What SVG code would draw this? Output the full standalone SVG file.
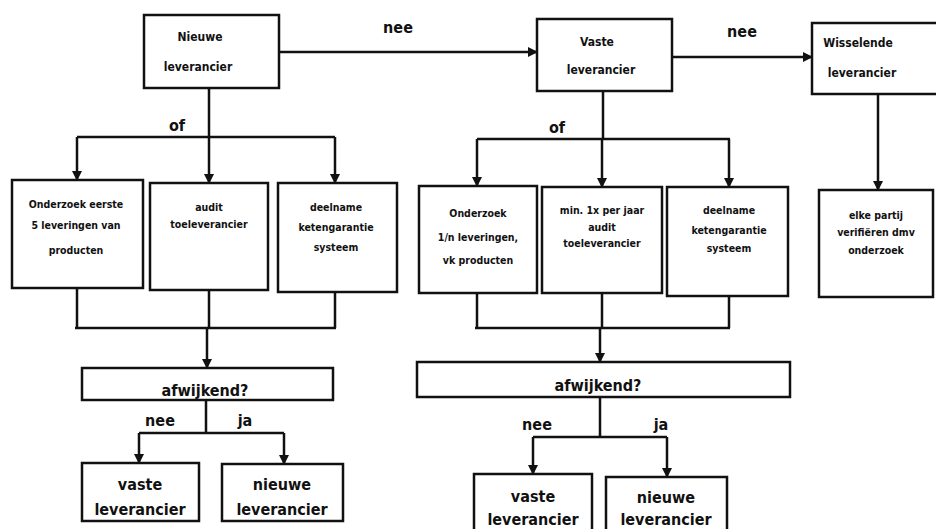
<svg xmlns="http://www.w3.org/2000/svg" width="936" height="529" viewBox="0 0 936 529">
<style>
.box{fill:#fff;stroke:#111;stroke-width:2.5}
.ln{fill:none;stroke:#111;stroke-width:2.5}
.ar{fill:none;stroke:#111;stroke-width:2.5;marker-end:url(#ah)}
text{font-family:"Liberation Sans Narrow","DejaVu Sans Condensed","Liberation Sans",sans-serif;font-weight:bold;fill:#111;text-anchor:middle}
.s{font-size:10.5px}
.m{font-size:12px}
.l{font-size:16px}
</style>
<defs>
<marker id="ah" markerWidth="10" markerHeight="10" refX="9" refY="5" orient="auto" markerUnits="userSpaceOnUse">
<path d="M0,0 L10,5 L0,10 Z" fill="#111"/>
</marker>
</defs>
<rect width="936" height="529" fill="#fff"/>
<g id="connectors">
<path class="ar" d="M279,52 H537"/>
<path class="ar" d="M672,57 H812"/>
<path class="ln" d="M209,88 V137 M77,137 H335"/>
<path class="ar" d="M77,137 V180"/>
<path class="ar" d="M209,137 V183"/>
<path class="ar" d="M335,137 V183"/>
<path class="ln" d="M77,288 V328 M209,290 V328 M335,292 V328 M75,328 H336"/>
<path class="ar" d="M207,328 V368"/>
<path class="ln" d="M206,400 V433 M139,433 H284"/>
<path class="ar" d="M139,433 V463"/>
<path class="ar" d="M284,433 V464"/>
<path class="ln" d="M603,91 V139 M477,139 H730"/>
<path class="ar" d="M477,139 V186"/>
<path class="ar" d="M602,139 V187"/>
<path class="ar" d="M729,139 V187"/>
<path class="ar" d="M878,94 V190"/>
<path class="ln" d="M477,293 V328 M602,293 V328 M729,296 V328 M475,328 H730"/>
<path class="ar" d="M600,328 V362"/>
<path class="ln" d="M600,397 V437 M533,437 H667"/>
<path class="ar" d="M533,437 V474"/>
<path class="ar" d="M667,437 V477"/>
</g>
<g id="labels">
<text class="l" x="398" y="33">nee</text>
<text class="l" x="742" y="37">nee</text>
<text class="l" x="177" y="131">of</text>
<text class="l" x="557" y="133">of</text>
<text class="l" x="160" y="426">nee</text>
<text class="l" x="245" y="426">ja</text>
<text class="l" x="537" y="430">nee</text>
<text class="l" x="661" y="430">ja</text>
</g>
<g id="nieuwe">
<rect class="box" x="144" y="15" width="135" height="73"/>
<text class="m" x="200" y="41">Nieuwe</text>
<text class="m" x="198" y="71">leverancier</text>
</g>
<g id="vaste">
<rect class="box" x="537" y="19" width="135" height="72"/>
<text class="m" x="597" y="46">Vaste</text>
<text class="m" x="601" y="74">leverancier</text>
</g>
<g id="wisselende">
<rect class="box" x="812" y="23" width="126" height="71"/>
<text class="m" x="858" y="47">Wisselende</text>
<text class="m" x="862" y="77">leverancier</text>
</g>
<g id="l1">
<rect class="box" x="12" y="180" width="131" height="108"/>
<text class="s" x="76" y="208">Onderzoek eerste</text>
<text class="s" x="76" y="229">5 leveringen van</text>
<text class="s" x="76" y="254">producten</text>
</g>
<g id="l2">
<rect class="box" x="150" y="183" width="118" height="107"/>
<text class="s" x="209" y="211">audit</text>
<text class="s" x="209" y="228">toeleverancier</text>
</g>
<g id="l3">
<rect class="box" x="278" y="183" width="119" height="109"/>
<text class="s" x="336" y="211">deelname</text>
<text class="s" x="336" y="231">ketengarantie</text>
<text class="s" x="336" y="251">systeem</text>
</g>
<g id="r1">
<rect class="box" x="419" y="186" width="118" height="107"/>
<text class="s" x="478" y="217">Onderzoek</text>
<text class="s" x="478" y="241">1/n leveringen,</text>
<text class="s" x="478" y="264">vk producten</text>
</g>
<g id="r2">
<rect class="box" x="542" y="187" width="120" height="106"/>
<text class="s" x="602" y="214">min. 1x per jaar</text>
<text class="s" x="602" y="231">audit</text>
<text class="s" x="602" y="247">toeleverancier</text>
</g>
<g id="r3">
<rect class="box" x="667" y="187" width="121" height="109"/>
<text class="s" x="729" y="214">deelname</text>
<text class="s" x="729" y="234">ketengarantie</text>
<text class="s" x="729" y="252">systeem</text>
</g>
<g id="w1">
<rect class="box" x="819" y="190" width="114" height="107"/>
<text class="s" x="876" y="219">elke partij</text>
<text class="s" x="876" y="236">verifiëren dmv</text>
<text class="s" x="876" y="254">onderzoek</text>
</g>
<g id="afw1">
<rect class="box" x="82" y="368" width="251" height="32"/>
<text class="l" x="205" y="396">afwijkend?</text>
</g>
<g id="afw2">
<rect class="box" x="417" y="362" width="373" height="35"/>
<text class="l" x="598" y="391">afwijkend?</text>
</g>
<g id="vaste1">
<rect class="box" x="82" y="463" width="117" height="58"/>
<text class="l" x="140" y="490">vaste</text>
<text class="l" x="140" y="515">leverancier</text>
</g>
<g id="nieuwe1">
<rect class="box" x="222" y="464" width="121" height="57"/>
<text class="l" x="282" y="490">nieuwe</text>
<text class="l" x="282" y="515">leverancier</text>
</g>
<g id="vaste2">
<rect class="box" x="474" y="474" width="118" height="60"/>
<text class="l" x="533" y="502">vaste</text>
<text class="l" x="533" y="525">leverancier</text>
</g>
<g id="nieuwe2">
<rect class="box" x="606" y="477" width="121" height="57"/>
<text class="l" x="666" y="503">nieuwe</text>
<text class="l" x="666" y="525">leverancier</text>
</g>
</svg>
